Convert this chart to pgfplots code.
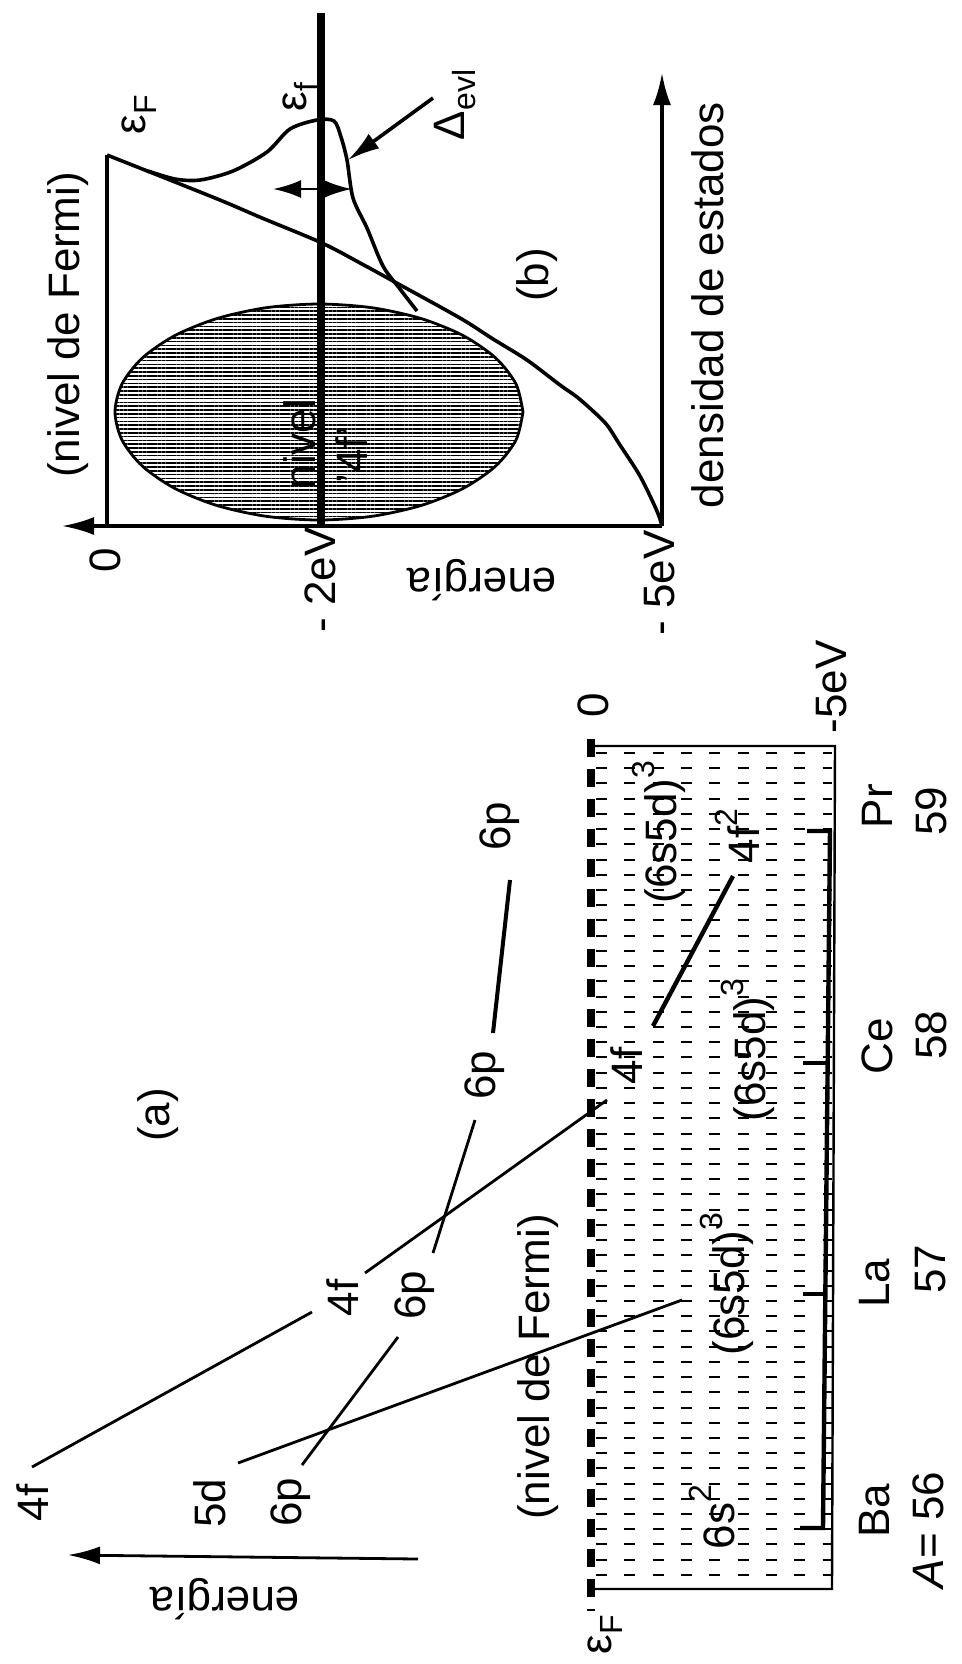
\documentclass[border=0pt]{standalone}
\usepackage{fontspec}
\setmainfont{Liberation Sans}
\usepackage{pgfplots}
\pgfplotsset{compat=1.18}
\usetikzlibrary{arrows.meta,patterns.meta}
\newcommand{\lo}[1]{\raisebox{-0.45ex}{\fontsize{8}{8}\selectfont #1}}
\newcommand{\hi}[1]{\raisebox{0.95ex}{\fontsize{8}{8}\selectfont #1}}
\begin{document}
\begin{tikzpicture}[every node/.style={font=\fontsize{11}{13}\selectfont, inner sep=0pt}]
\begin{axis}[scale only axis, width=240.5pt, height=416pt,
  xmin=0, xmax=962, ymin=0, ymax=1664, y dir=reverse,
  hide axis, clip=false]

% ================= panel (b) =================
% ellipse (nivel 4f)
\addplot[line width=0.7pt, draw=black, smooth,
  pattern={Lines[angle=0,distance=0.95pt,line width=0.4pt]}] coordinates {
(523,412) (516,384) (495.7,358) (463.2,335.6) (421,318.5) (371.8,307.7)
(319,304) (266.2,307.7) (217,318.5) (174.8,335.6) (142.3,358) (122,384)
(115,412) (122,440) (142.3,466) (174.8,488.4) (217,505.5) (266.2,516.3)
(319,520) (371.8,516.3) (421,505.5) (463.2,488.4) (495.7,466) (516,440) (523,412)};
% energy axis and density axis
\addplot[line width=0.8pt, -{Latex[length=8pt,width=4.5pt]}] coordinates {(662,526) (62,526)};
\addplot[line width=0.8pt, -{Latex[length=8pt,width=4.5pt]}] coordinates {(662,526) (662,73)};
% Fermi level line
\addplot[line width=0.8pt] coordinates {(107,526) (107,155)};
% density of states
\addplot[line width=0.9pt, smooth] coordinates {
(107,155) (215,198) (262,218) (322,243) (362,264) (393,281) (460,318) (493,339)
(527,360) (560,385) (577,397) (593,411) (607,425) (620,445) (640,476) (657,511) (662,526)};
% resonance
\addplot[line width=0.9pt, smooth] coordinates {
(148,171) (175,179) (200,180) (233,171) (267,152) (290,129) (317,120) (334,121)
(341,137) (347,160) (353,198) (367,228) (383,266) (400,289) (417,311)};
% thick level line
\addplot[line width=2.2pt] coordinates {(321,13) (321,526)};
% Delta arrow
\addplot[line width=0.9pt, -{Latex[length=8pt,width=4.5pt]}] coordinates {(433,98) (348,160)};
% width double arrow
\addplot[line width=0.7pt, {Latex[length=7pt,width=4.5pt]}-{Latex[length=7pt,width=4.5pt]}] coordinates {(273,189) (352,189)};

\node[rotate=90] at (68,325) {(nivel de Fermi)};
\node[rotate=90] at (139,115) {ε\lo{F}};
\node[rotate=90] at (300,97) {ε\lo{f}};
\node[rotate=90] at (455,105) {Δ\lo{evl}};
\node[rotate=90] at (300,444) {nivel};
\node[rotate=90] at (352,455) {'4f'};
\node[rotate=90] at (537,275) {(b)};
\node[rotate=90] at (708,305) {densidad de estados};
\node[rotate=90] at (105,560) {0};
\node[rotate=90] at (320,580) {- 2eV};
\node[rotate=90] at (660,583) {- 5eV};
\node[rotate=180] at (482,580) {energía};

% ================= panel (a) =================
% hatch rows inside the band
\addplot[line width=0.5pt, unbounded coords=jump, dash pattern=on 2.75pt off 4.33pt] coordinates {
(596,753.0) (832,753.0) (nan,nan) (596,768.2) (832,768.2) (nan,nan)
(596,783.4) (832,783.4) (nan,nan) (596,798.7) (832,798.7) (nan,nan)
(596,813.9) (832,813.9) (nan,nan) (596,829.1) (832,829.1) (nan,nan)
(596,844.3) (832,844.3) (nan,nan) (596,859.5) (832,859.5) (nan,nan)
(596,874.8) (832,874.8) (nan,nan) (596,890.0) (832,890.0) (nan,nan)
(596,905.2) (832,905.2) (nan,nan) (596,920.4) (832,920.4) (nan,nan)
(596,935.6) (832,935.6) (nan,nan) (596,950.9) (832,950.9) (nan,nan)
(596,966.1) (832,966.1) (nan,nan) (596,981.3) (832,981.3) (nan,nan)
(596,996.5) (832,996.5) (nan,nan) (596,1011.7) (832,1011.7) (nan,nan)
(596,1027.0) (832,1027.0) (nan,nan) (596,1042.2) (832,1042.2) (nan,nan)
(596,1057.4) (832,1057.4) (nan,nan) (596,1072.6) (832,1072.6) (nan,nan)
(596,1087.8) (832,1087.8) (nan,nan) (596,1103.1) (832,1103.1) (nan,nan)
(596,1118.3) (832,1118.3) (nan,nan) (596,1133.5) (832,1133.5) (nan,nan)
(596,1148.7) (832,1148.7) (nan,nan) (596,1163.9) (832,1163.9) (nan,nan)
(596,1179.2) (832,1179.2) (nan,nan) (596,1194.4) (832,1194.4) (nan,nan)
(596,1209.6) (832,1209.6) (nan,nan) (596,1224.8) (832,1224.8) (nan,nan)
(596,1240.0) (832,1240.0) (nan,nan) (596,1255.3) (832,1255.3) (nan,nan)
(596,1270.5) (832,1270.5) (nan,nan) (596,1285.7) (832,1285.7) (nan,nan)
(596,1300.9) (832,1300.9) (nan,nan) (596,1316.1) (832,1316.1) (nan,nan)
(596,1331.4) (832,1331.4) (nan,nan) (596,1346.6) (832,1346.6) (nan,nan)
(596,1361.8) (832,1361.8) (nan,nan) (596,1377.0) (832,1377.0) (nan,nan)
(596,1392.2) (832,1392.2) (nan,nan) (596,1407.5) (832,1407.5) (nan,nan)
(596,1422.7) (832,1422.7) (nan,nan) (596,1437.9) (832,1437.9) (nan,nan)
(596,1453.1) (832,1453.1) (nan,nan) (596,1468.3) (832,1468.3) (nan,nan)
(596,1483.6) (832,1483.6) (nan,nan) (596,1498.8) (832,1498.8) (nan,nan)
(596,1514.0) (832,1514.0) (nan,nan) (596,1529.2) (832,1529.2) (nan,nan)
(596,1544.4) (832,1544.4) (nan,nan) (596,1559.7) (832,1559.7) (nan,nan)
(596,1574.9) (832,1574.9)};
% band outline
\addplot[line width=0.6pt] coordinates {(593,746) (835,746) (832,1589) (593,1589)};
% Fermi level (dashed thick)
\addplot[line width=1.8pt, dash pattern=on 4.5pt off 3pt] coordinates {(591,739) (591,1611)};
% 5d staircase
\addplot[line width=1.1pt] coordinates {(800,1528) (823,1528) (830,831) (807,831)};
\addplot[line width=1.1pt] coordinates {(803,1294) (826,1294)};
\addplot[line width=1.1pt] coordinates {(803,1063) (828,1063)};
% level lines
\addplot[line width=0.7pt] coordinates {(32,1467) (312,1312)};
\addplot[line width=0.7pt] coordinates {(238,1463) (682,1300)};
\addplot[line width=0.7pt] coordinates {(302,1465) (398,1337)};
\addplot[line width=0.7pt] coordinates {(365,1273) (607,1100)};
\addplot[line width=0.7pt] coordinates {(433,1253) (475,1120)};
\addplot[line width=1.0pt] coordinates {(493,1033) (510,880)};
\addplot[line width=1.1pt] coordinates {(653,1026) (733,876)};
% energy arrow
\addplot[line width=0.7pt, -{Latex[length=8pt,width=4.5pt]}] coordinates {(418,1559) (68,1555)};

\node[rotate=180] at (225,1599) {energía};
\node[rotate=90] at (158,1115) {(a)};
\node[rotate=90] at (33,1503) {4f};
\node[rotate=90] at (210,1503) {5d};
\node[rotate=90] at (291,1502) {6p};
\node[rotate=90] at (343,1298) {4f};
\node[rotate=90] at (415,1295) {6p};
\node[rotate=90] at (485,1075) {6p};
\node[rotate=90] at (500,826) {6p};
\node[rotate=90] at (627,1066) {4f};
\node[rotate=90] at (737,836) {4f\hi{2}};
\node[rotate=90] at (538,1367) {(nivel de Fermi)};
\node[rotate=90] at (712,1517) {6s\hi{2}};
\node[rotate=90] at (727,1284) {(6s5d)\hi{3}};
\node[rotate=90] at (748,1050) {(6s5d)\hi{3}};
\node[rotate=90] at (659,832) {(6s5d)\hi{3}};
\node[rotate=90] at (605,1635) {ε\lo{F}};
\node[rotate=90] at (593,705) {0};
\node[rotate=90] at (832,687) {-5eV};
\node[rotate=90] at (875,1511) {Ba};
\node[rotate=90] at (875,1283) {La};
\node[rotate=90] at (877,1046) {Ce};
\node[rotate=90] at (877,806) {Pr};
\node[rotate=90] at (928,1530) {\textit{A}= 56};
\node[rotate=90] at (931,1269) {57};
\node[rotate=90] at (931,1035) {58};
\node[rotate=90] at (931,811) {59};
\end{axis}
\pgfresetboundingbox
\useasboundingbox (current axis.south west) rectangle (current axis.north east);
\end{tikzpicture}
\end{document}
